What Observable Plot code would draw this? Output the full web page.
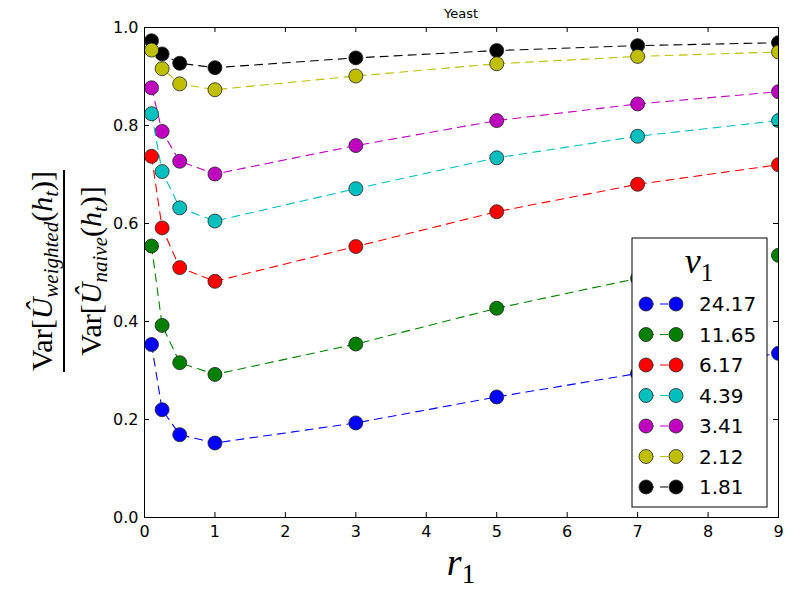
<!DOCTYPE html>
<html>
<head>
<meta charset="utf-8">
<style>
  body { margin: 0; background: white; }
  #chart svg { display: block; }
</style>
<script src="https://cdn.jsdelivr.net/npm/d3@7"></script>
<script src="https://cdn.jsdelivr.net/npm/@observablehq/plot@0.6"></script>
</head>
<body>
<div id="chart"></div>
<script>
// ---- data ----
const xVals = [0.1, 0.25, 0.5, 1, 3, 5, 7, 9];
const xTicks = [0, 1, 2, 3, 4, 5, 6, 7, 8, 9];
const yTicks = [0, 0.2, 0.4, 0.6, 0.8, 1.0];
const seriesLabels = ["24.17", "11.65", "6.17", "4.39", "3.41", "2.12", "1.81"];
const seriesColors = ["#0000ff", "#007f00", "#ff0000", "#00bfbf", "#bf00bf", "#bfbf00", "#000000"];
const v2417 = [0.353, 0.220, 0.169, 0.152, 0.193, 0.246, 0.294, 0.335];
const v1165 = [0.554, 0.392, 0.316, 0.292, 0.354, 0.427, 0.488, 0.535];
const v617  = [0.737, 0.591, 0.510, 0.482, 0.553, 0.624, 0.680, 0.720];
const v439  = [0.824, 0.706, 0.632, 0.605, 0.671, 0.734, 0.778, 0.810];
const v341  = [0.877, 0.788, 0.727, 0.701, 0.759, 0.810, 0.844, 0.869];
const v212  = [0.954, 0.916, 0.885, 0.873, 0.901, 0.926, 0.941, 0.950];
const v181  = [0.973, 0.946, 0.927, 0.918, 0.938, 0.953, 0.963, 0.969];
const seriesValues = [v2417, v1165, v617, v439, v341, v212, v181];

const rows = [];
seriesLabels.forEach((s, i) => {
  seriesValues[i].forEach((v, j) => rows.push({series: s, x: xVals[j], y: v}));
});

// draw order: last legend entry first (matches overlap in reference)
const seriesMarks = [];
seriesLabels.slice().reverse().forEach(s => {
  const d = rows.filter(r => r.series === s);
  seriesMarks.push(Plot.line(d, {x: "x", y: "y", stroke: "series", strokeWidth: 1.1, strokeDasharray: "8,6"}));
  seriesMarks.push(Plot.dot(d, {x: "x", y: "y", fill: "series", stroke: "#222", strokeWidth: 0.8, r: 7, clip: true}));
});

const chart = Plot.plot({
  width: 800,
  height: 600,
  marginLeft: 144,
  marginRight: 22,
  marginTop: 27,
  marginBottom: 83,
  style: {fontFamily: "DejaVu Sans", fontSize: "16px", background: "white", color: "black"},
  x: {domain: [0, 9]},
  y: {domain: [0, 1]},
  color: {domain: seriesLabels, range: seriesColors},
  marks: [
    ...seriesMarks,
    Plot.frame({stroke: "black", strokeWidth: 1}),
    Plot.axisX(xTicks, {anchor: "bottom", tickSize: 0, tickPadding: 8, label: null, fontSize: 16}),
    Plot.axisY(yTicks, {anchor: "left", tickSize: 0, tickPadding: 6, label: null, tickFormat: d3.format(".1f"), fontSize: 16}),
    Plot.tickX(xTicks, {x: d => d, frameAnchor: "bottom", insetTop: 485, stroke: "black"}),
    Plot.tickX(xTicks, {x: d => d, insetBottom: 485, stroke: "black"}),
    Plot.tickY(yTicks, {y: d => d, insetRight: 629, stroke: "black"}),
    Plot.tickY(yTicks, {y: d => d, insetLeft: 629, stroke: "black"})
  ]
});

document.getElementById("chart").appendChild(chart);

const svg = d3.select(chart);

// title
svg.append("text").attr("x", 461).attr("y", 18).attr("text-anchor", "middle")
  .attr("font-family", "DejaVu Sans").attr("font-size", 13).attr("fill", "black").text("Yeast");

// x label r_1
const xl = svg.append("text").attr("x", 461).attr("y", 575).attr("text-anchor", "middle")
  .attr("font-family", "Liberation Serif").attr("font-size", 38).attr("fill", "black");
xl.append("tspan").attr("font-style", "italic").text("r");
xl.append("tspan").attr("font-size", 27).attr("dy", 8).text("1");

// y label fraction
const yg = svg.append("g").attr("transform", "translate(64,271) rotate(-90)");
function frac(t, y, sub) {
  const el = yg.append("text").attr("x", 0).attr("y", y).attr("text-anchor", "middle")
    .attr("font-family", "Liberation Serif").attr("font-size", 30).attr("fill", "black");
  el.append("tspan").text("Var[");
  el.append("tspan").attr("font-style", "italic").text("Û");
  el.append("tspan").attr("font-style", "italic").attr("font-size", 21).attr("dy", 6).text(sub);
  el.append("tspan").attr("dy", -6).text("(");
  el.append("tspan").attr("font-style", "italic").text("h");
  el.append("tspan").attr("font-style", "italic").attr("font-size", 21).attr("dy", 6).text("t");
  el.append("tspan").attr("dy", -6).text(")]");
  return el;
}
frac(yg, -12, "weighted");
frac(yg, 37, "naive");
yg.append("line").attr("x1", -101).attr("x2", 101).attr("y1", 0).attr("y2", 0)
  .attr("stroke", "black").attr("stroke-width", 2);

// legend
const lg = svg.append("g");
lg.append("rect").attr("x", 632).attr("y", 238).attr("width", 135).attr("height", 269)
  .attr("fill", "white").attr("stroke", "black").attr("stroke-width", 1);
const lt = lg.append("text").attr("x", 699).attr("y", 273).attr("text-anchor", "middle")
  .attr("font-family", "Liberation Serif").attr("font-size", 36).attr("fill", "black");
lt.append("tspan").attr("font-style", "italic").text("v");
lt.append("tspan").attr("font-size", 25).attr("dy", 8).text("1");
seriesLabels.forEach((s, i) => {
  const y = 304 + 30.5 * i;
  lg.append("line").attr("x1", 646).attr("x2", 676).attr("y1", y).attr("y2", y)
    .attr("stroke", seriesColors[i]).attr("stroke-width", 1.1).attr("stroke-dasharray", "8,6");
  [646, 676].forEach(cx => lg.append("circle").attr("cx", cx).attr("cy", y).attr("r", 7)
    .attr("fill", seriesColors[i]).attr("stroke", "#222").attr("stroke-width", 0.8));
  lg.append("text").attr("x", 699).attr("y", y).attr("dy", "0.36em").attr("text-anchor", "start")
    .attr("font-family", "DejaVu Sans").attr("font-size", 20).attr("fill", "black").text(s);
});
</script>
</body>
</html>
